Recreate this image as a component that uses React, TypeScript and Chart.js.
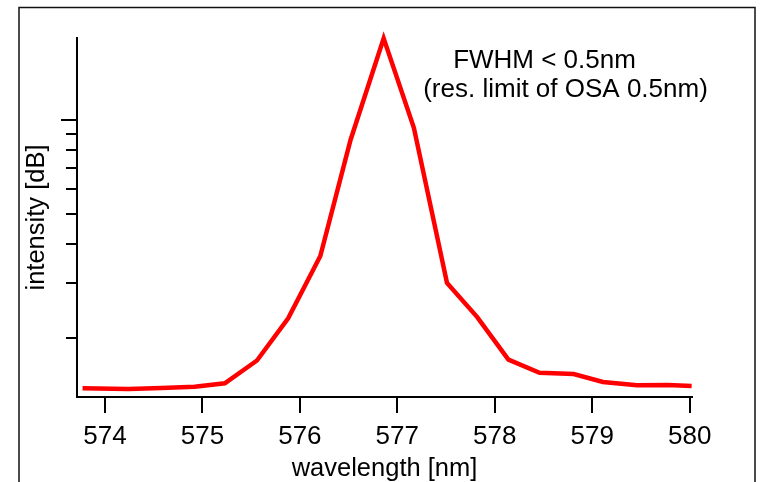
import React, { useEffect, useRef } from "react";
import { Chart, registerables } from "chart.js";

Chart.register(...registerables);

const WAVELENGTH = [573.77, 574.24, 574.58, 574.92, 575.23, 575.56, 575.88, 576.21, 576.52, 576.86, 577.17, 577.51, 577.82, 578.14, 578.46, 578.81, 579.11, 579.46, 579.78, 580.02];
const INTENSITY = [1.375, 1.368, 1.378, 1.391, 1.427, 1.69, 2.31, 3.66, 8.63, 18.3, 9.45, 3.0, 2.33, 1.70, 1.543, 1.528, 1.441, 1.406, 1.409, 1.399];
const X_TICKS = [574, 575, 576, 577, 578, 579, 580];
const Y_TICKS = [2, 3, 4, 5, 6, 7, 8, 9, 10];
const Y_MAJOR = [10];
const ANNOTATION = ["FWHM < 0.5nm", "(res. limit of OSA 0.5nm)"];

const FONT = "'Liberation Sans', Arial, Helvetica, sans-serif";

const decorPlugin = {
  id: "decor",
  beforeDraw(chart: any) {
    const ctx = chart.ctx;
    ctx.save();
    ctx.fillStyle = "#fff";
    ctx.fillRect(0, 0, chart.width, chart.height);
    ctx.strokeStyle = "#111";
    ctx.lineWidth = 1.5;
    ctx.strokeRect(19, 7.5, 736, 600);
    ctx.restore();
  },
  afterDraw(chart: any) {
    const ctx = chart.ctx;
    const ys = chart.scales.y;
    ctx.save();
    ctx.strokeStyle = "#000";
    ctx.lineWidth = 2;
    Y_MAJOR.forEach((v) => {
      const p = Math.round(ys.getPixelForValue(v));
      ctx.beginPath();
      ctx.moveTo(ys.right - 16, p);
      ctx.lineTo(ys.right - 10, p);
      ctx.stroke();
    });
    ctx.fillStyle = "#000";
    ctx.font = `26px ${FONT}`;
    ctx.textAlign = "center";
    ctx.textBaseline = "alphabetic";
    ctx.fillText(ANNOTATION[0], 544.5, 68);
    ctx.fillText(ANNOTATION[1], 565.5, 97);
    ctx.restore();
  },
};

export default function App() {
  const ref = useRef<HTMLCanvasElement>(null);
  useEffect(() => {
    const chart = new Chart(ref.current as HTMLCanvasElement, {
      type: "line",
      data: {
        datasets: [
          {
            data: WAVELENGTH.map((x, i) => ({ x, y: INTENSITY[i] })),
            borderColor: "#ff0000",
            borderWidth: 4.5,
            pointRadius: 0,
            tension: 0,
            fill: false,
            clip: false as any,
          },
        ],
      },
      options: {
        responsive: false,
        animation: false,
        devicePixelRatio: 1,
        layout: { padding: { left: 0, top: 38, right: 69, bottom: 0 } },
        plugins: { legend: { display: false }, tooltip: { enabled: false } },
        scales: {
          x: {
            type: "linear",
            min: 573.713,
            max: 580.024,
            afterBuildTicks: (s: any) => {
              s.ticks = X_TICKS.map((v) => ({ value: v }));
            },
            afterFit: (s: any) => {
              s.height = 85;
            },
            grid: { drawOnChartArea: false, tickLength: 16, color: "#000", lineWidth: 2 },
            border: { display: true, color: "#000", width: 2 },
            ticks: {
              color: "#000",
              font: { family: FONT, size: 26 },
              padding: 8,
              maxRotation: 0,
              autoSkip: false,
              callback: (v: any) => String(v),
            },
            title: {
              display: true,
              text: "wavelength [nm]",
              color: "#000",
              font: { family: FONT, size: 25.5, lineHeight: 1 },
              padding: { top: 0, bottom: 0 },
            },
          },
          y: {
            type: "logarithmic",
            min: 1.29,
            max: 18.35,
            afterBuildTicks: (s: any) => {
              s.ticks = Y_TICKS.map((v) => ({ value: v }));
            },
            afterFit: (s: any) => {
              s.width = 77;
            },
            grid: { drawOnChartArea: false, tickLength: 11, color: "#000", lineWidth: 2 },
            border: { display: true, color: "#000", width: 2 },
            ticks: { display: true, callback: () => "", padding: 0 },
            title: {
              display: true,
              text: "intensity [dB]",
              color: "#000",
              font: { family: FONT, size: 25.5, lineHeight: 1 },
              padding: { top: 24, bottom: 0 },
            },
          },
        },
      } as any,
      plugins: [decorPlugin],
    });
    return () => chart.destroy();
  }, []);
  return (
    <div style={{ position: "fixed", left: 0, top: 0, width: 761, height: 482, background: "#fff" }}>
      <canvas ref={ref} width={761} height={482} style={{ width: 761, height: 482, display: "block" }} />
    </div>
  );
}
